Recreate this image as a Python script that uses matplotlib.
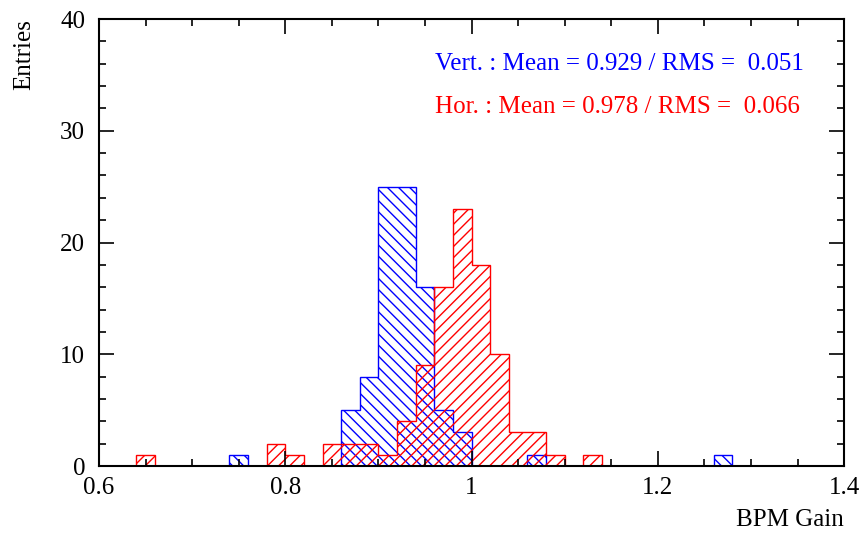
import numpy as np
import matplotlib.pyplot as plt

# bin edges: 0.6 .. 1.4 in steps of 0.02
edges = np.round(np.arange(0.6, 1.4001, 0.02), 2)

# entries per bin (bin low edge -> count)
vert_bins = {0.74: 1, 0.86: 5, 0.88: 8, 0.90: 25, 0.92: 25, 0.94: 16,
             0.96: 5, 0.98: 3, 1.06: 1, 1.26: 1}
hor_bins = {0.64: 1, 0.78: 2, 0.80: 1, 0.84: 2, 0.86: 2, 0.88: 2,
            0.90: 1, 0.92: 4, 0.94: 9, 0.96: 16, 0.98: 23, 1.00: 18,
            1.02: 10, 1.04: 3, 1.06: 3, 1.08: 1, 1.12: 1}

vert_label = 'Vert. : Mean = 0.929 / RMS =  0.051'
hor_label = 'Hor. : Mean = 0.978 / RMS =  0.066'


def counts(bins):
    c = np.zeros(len(edges) - 1)
    for lo, n in bins.items():
        c[int(round((lo - 0.6) / 0.02))] = n
    return c


plt.rcParams['font.family'] = ['Liberation Serif', 'DejaVu Serif']
plt.rcParams['hatch.linewidth'] = 1.0

fig = plt.figure(figsize=(8.62, 5.37), dpi=100)
ax = fig.add_axes([0.1149, 0.1322, 0.8643, 0.8324])

ax.stairs(counts(vert_bins), edges, fill=True, facecolor='none',
          edgecolor='blue', hatch='\\\\\\', linewidth=1.0)
ax.stairs(counts(hor_bins), edges, fill=True, facecolor='none',
          edgecolor='red', hatch='///', linewidth=1.0)

ax.set_xlim(0.6, 1.4)
ax.set_ylim(0, 40)
ax.set_xticks([0.6, 0.8, 1.0, 1.2, 1.4])
ax.set_xticklabels(['0.6', '0.8', '1', '1.2', '1.4'])
ax.set_xticks(np.arange(0.6, 1.4001, 0.05), minor=True)
ax.set_yticks([0, 10, 20, 30, 40])
ax.set_yticks(np.arange(0, 41, 2), minor=True)

ax.tick_params(which='both', direction='in', top=True, right=True,
               labelsize=18, width=1.2)
ax.tick_params(which='major', length=11)
ax.tick_params(which='minor', length=5)
ax.tick_params(axis='x', pad=8)
ax.tick_params(axis='y', pad=10)
for s in ax.spines.values():
    s.set_linewidth(1.5)

ax.set_xlabel('BPM Gain', fontsize=18, loc='right', labelpad=7)
ax.set_ylabel('Entries', fontsize=18, loc='top', labelpad=18)

ax.text(0.961, 36.0, vert_label, color='blue', fontsize=18, va='center')
ax.text(0.961, 32.1, hor_label, color='red', fontsize=18, va='center')

fig.savefig('out.png', dpi=100)
